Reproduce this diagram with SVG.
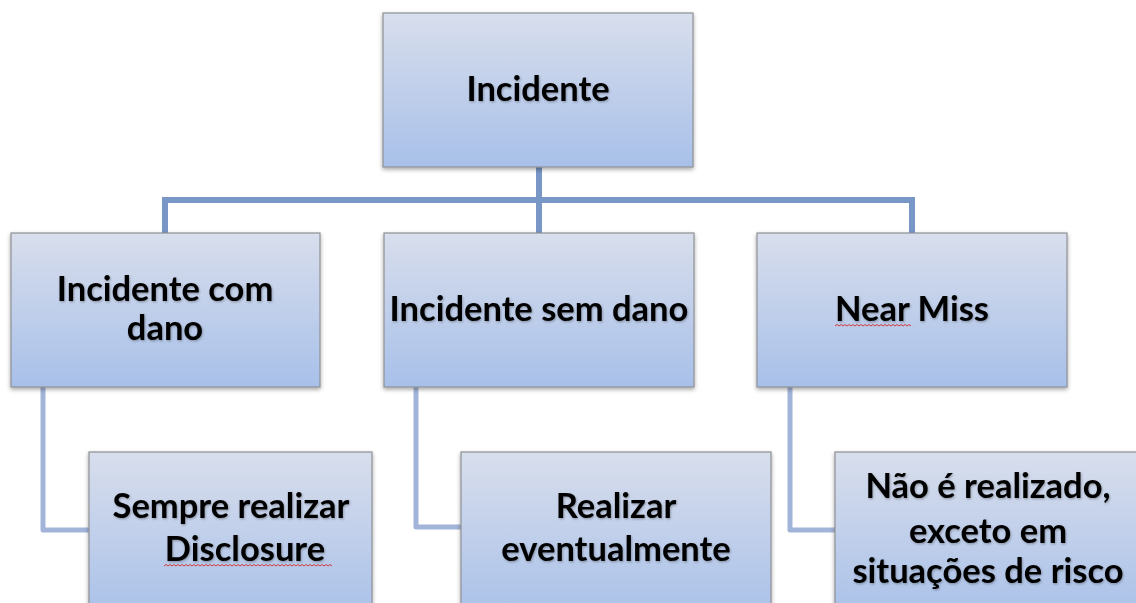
<svg xmlns="http://www.w3.org/2000/svg" width="1136" height="603" viewBox="0 0 1136 603">
<defs>
<linearGradient id="g" x1="0" y1="0" x2="0" y2="1">
<stop offset="0" stop-color="#d8deec"/>
<stop offset="1" stop-color="#a8c0e9"/>
</linearGradient>
<filter id="sh" x="-10%" y="-10%" width="120%" height="130%">
<feDropShadow dx="0" dy="2" stdDeviation="2" flood-color="#000" flood-opacity="0.35"/>
</filter>
<filter id="ts" x="-5%" y="-20%" width="110%" height="140%">
<feDropShadow dx="0.8" dy="1.2" stdDeviation="1" flood-color="#000" flood-opacity="0.3"/>
</filter>
</defs>
<style>
.box{fill:url(#g);stroke:#8e9095;stroke-width:1.2;filter:url(#sh)}
.t{font-family:Lato,"Liberation Sans",sans-serif;font-weight:bold;font-size:34.5px;fill:#000;text-anchor:middle;filter:url(#ts)}
.c1{fill:none;stroke:#7896c6;stroke-width:6}
.c2{fill:none;stroke:#a2b5d9;stroke-width:5;stroke-linejoin:round}
.sq{fill:none;stroke:#d23a3a;stroke-width:1}
</style>
<rect width="1136" height="603" fill="#ffffff"/>
<g id="connectors">
<path class="c1" d="M539 167 V233 M165 233 V200 H912 V233"/>
<path class="c2" d="M43 387 V530 H90"/>
<path class="c2" d="M416 387 V527 H462"/>
<path class="c2" d="M790 387 V530 H836"/>
</g>
<g id="incidente">
<rect class="box" x="383" y="13" width="310" height="154"/>
<text class="t" x="538" y="101">Incidente</text>
</g>
<g id="incidente-com-dano">
<rect class="box" x="11" y="233" width="309" height="154"/>
<text class="t" x="165" y="301">Incidente com</text>
<text class="t" x="165" y="340">dano</text>
</g>
<g id="incidente-sem-dano">
<rect class="box" x="384" y="233" width="310" height="154"/>
<text class="t" x="539" y="321">Incidente sem dano</text>
</g>
<g id="near-miss">
<rect class="box" x="757" y="233" width="310" height="154"/>
<text class="t" x="912" y="321">Near Miss</text>
<path class="sq" d="M835 326 l2 -1.5 l2 1.5 l2 -1.5 l2 1.5 l2 -1.5 l2 1.5 l2 -1.5 l2 1.5 l2 -1.5 l2 1.5 l2 -1.5 l2 1.5 l2 -1.5 l2 1.5 l2 -1.5 l2 1.5 l2 -1.5 l2 1.5 l2 -1.5 l2 1.5 l2 -1.5 l2 1.5 l2 -1.5 l2 1.5 l2 -1.5 l2 1.5 l2 -1.5 l2 1.5 l2 -1.5 l2 1.5 l2 -1.5 l2 1.5 l2 -1.5 l2 1.5 l2 -1.5 l2 1.5 l2 -1.5 l2 1.5"/>
</g>
<g id="sempre">
<rect class="box" x="89" y="452" width="283" height="170"/>
<text class="t" x="231" y="518">Sempre realizar</text>
<text class="t" x="245" y="561">Disclosure</text>
<path class="sq" d="M164 566 l2 -1.5 l2 1.5 l2 -1.5 l2 1.5 l2 -1.5 l2 1.5 l2 -1.5 l2 1.5 l2 -1.5 l2 1.5 l2 -1.5 l2 1.5 l2 -1.5 l2 1.5 l2 -1.5 l2 1.5 l2 -1.5 l2 1.5 l2 -1.5 l2 1.5 l2 -1.5 l2 1.5 l2 -1.5 l2 1.5 l2 -1.5 l2 1.5 l2 -1.5 l2 1.5 l2 -1.5 l2 1.5 l2 -1.5 l2 1.5 l2 -1.5 l2 1.5 l2 -1.5 l2 1.5 l2 -1.5 l2 1.5 l2 -1.5 l2 1.5 l2 -1.5 l2 1.5 l2 -1.5 l2 1.5 l2 -1.5 l2 1.5 l2 -1.5 l2 1.5 l2 -1.5 l2 1.5 l2 -1.5 l2 1.5 l2 -1.5 l2 1.5 l2 -1.5 l2 1.5 l2 -1.5 l2 1.5 l2 -1.5 l2 1.5 l2 -1.5 l2 1.5 l2 -1.5 l2 1.5 l2 -1.5 l2 1.5 l2 -1.5 l2 1.5 l2 -1.5 l2 1.5 l2 -1.5 l2 1.5 l2 -1.5 l2 1.5 l2 -1.5 l2 1.5 l2 -1.5 l2 1.5 l2 -1.5 l2 1.5 l2 -1.5 l2 1.5 l2 -1.5 l2 1.5"/>
</g>
<g id="realizar">
<rect class="box" x="461" y="452" width="310" height="170"/>
<text class="t" x="616" y="518">Realizar</text>
<text class="t" x="616" y="561">eventualmente</text>
</g>
<g id="nao-realizado">
<rect class="box" x="835" y="452" width="310" height="170"/>
<text class="t" x="988" y="498">Não é realizado,</text>
<text class="t" x="988" y="543">exceto em</text>
<text class="t" x="988" y="583">situações de risco</text>
</g>
</svg>
